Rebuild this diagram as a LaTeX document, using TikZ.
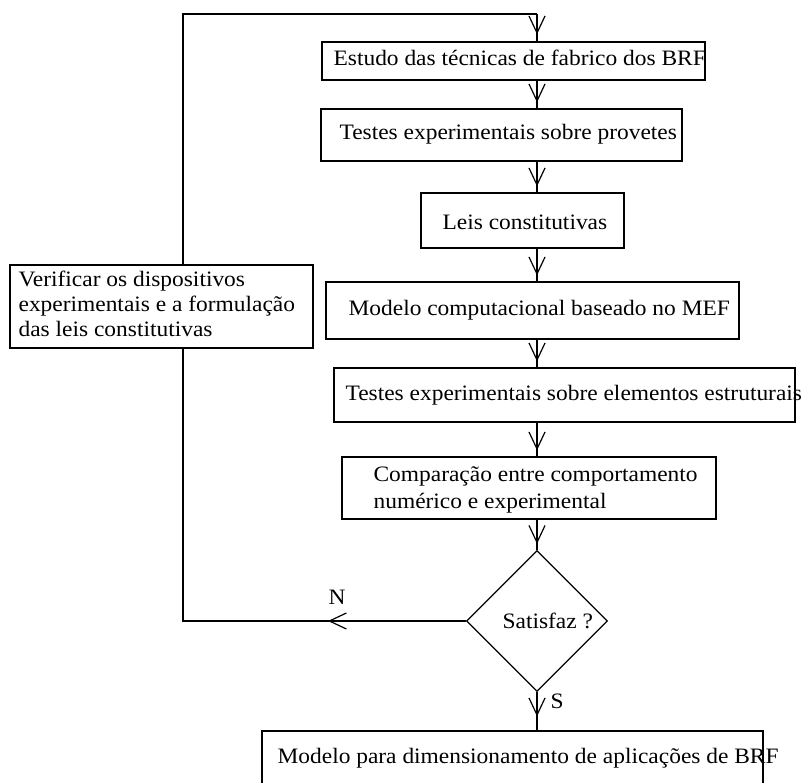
\documentclass[tikz,border=0pt]{standalone}
\usepackage{fontspec}
\setmainfont{Liberation Serif}[FakeStretch=1.065]
\usetikzlibrary{shapes.geometric,arrows.meta}
\begin{document}
\begin{tikzpicture}[x=1pt,y=1pt,
  line width=1.2pt,
  box/.style={draw, rectangle, inner sep=0pt},
  txt/.style={inner sep=0pt, anchor=base west, font=\fontsize{22}{26}\selectfont},
  arr/.style={-{Straight Barb[length=17pt,width=16pt,line width=1.2pt]}}
]
\useasboundingbox (0,0) rectangle (803,-783);
% boxes
\node[box, minimum width=383pt, minimum height=38pt] (b1) at (513.5,-61) {};
\node[box, minimum width=361pt, minimum height=52pt] (b2) at (501.5,-135) {};
\node[box, minimum width=203pt, minimum height=55pt] (b3) at (522.5,-220.5) {};
\node[box, minimum width=413pt, minimum height=57pt] (b4) at (532.5,-310.5) {};
\node[box, minimum width=461pt, minimum height=54pt] (b5) at (564.5,-395) {};
\node[box, minimum width=374pt, minimum height=62pt] (b6) at (529,-488) {};
\node[box, minimum width=303pt, minimum height=83pt] (b7) at (161.5,-306.5) {};
\node[box, minimum width=501pt, minimum height=60pt] (b8) at (512.5,-761) {};
\node[draw, diamond, inner sep=0pt, minimum width=141pt, minimum height=141pt] (dia) at (537,-621) {};
% texts
\node[txt] (t1) at (333,-66) {Estudo das técnicas de fabrico dos BRF};
\node[txt] (t2) at (339,-140) {Testes experimentais sobre provetes};
\node[txt] (t3) at (442,-230) {Leis constitutivas};
\node[txt] (t4) at (348,-316) {Modelo computacional baseado no MEF};
\node[txt] (t5) at (345,-400) {Testes experimentais sobre elementos estruturais};
\node[txt] (t6a) at (373,-481) {Comparação entre comportamento};
\node[txt] (t6b) at (373,-508) {numérico e experimental};
\node[txt] (t7a) at (18,-287) {Verificar os dispositivos};
\node[txt] (t7b) at (18,-312) {experimentais e a formulação};
\node[txt] (t7c) at (18,-337) {das leis constitutivas};
\node[txt] (t8) at (277,-763) {Modelo para dimensionamento de aplicações de BRF};
\node[txt] (td) at (502,-628) {Satisfaz ?};
\node[txt] (tn) at (328,-604) {N};
\node[txt] (ts) at (550,-708) {S};
% helper coordinates
\coordinate (lx) at (183,-14);
\coordinate (ntip) at (328,-621);
% vertical flow
\draw (lx -| dia) -- (b1.north -| dia);
\draw[arr, shorten >=7pt] (lx -| dia) -- (b1.north -| dia);
\draw (b1.south -| dia) -- (b2.north -| dia);
\draw[arr, shorten >=6pt] (b1.south -| dia) -- (b2.north -| dia);
\draw (b2.south -| dia) -- (b3.north -| dia);
\draw[arr, shorten >=6pt] (b2.south -| dia) -- (b3.north -| dia);
\draw (b3.south -| dia) -- (b4.north -| dia);
\draw[arr, shorten >=6pt] (b3.south -| dia) -- (b4.north -| dia);
\draw (b4.south -| dia) -- (b5.north -| dia);
\draw[arr, shorten >=6pt] (b4.south -| dia) -- (b5.north -| dia);
\draw (b5.south -| dia) -- (b6.north -| dia);
\draw[arr, shorten >=6pt] (b5.south -| dia) -- (b6.north -| dia);
\draw (b6.south -| dia) -- (dia.north);
\draw[arr, shorten >=6pt] (b6.south -| dia) -- (dia.north);
\draw (dia.south) -- (b8.north -| dia);
\draw[arr, shorten >=14pt] (dia.south) -- (b8.north -| dia);
% loop back
\draw (dia.west) -- (dia.west -| lx) -- (b7.south -| lx);
\draw[arr] (dia.west) -- (ntip);
\draw (b7.north -| lx) -- (lx) -- (lx -| dia);
\end{tikzpicture}
\end{document}
